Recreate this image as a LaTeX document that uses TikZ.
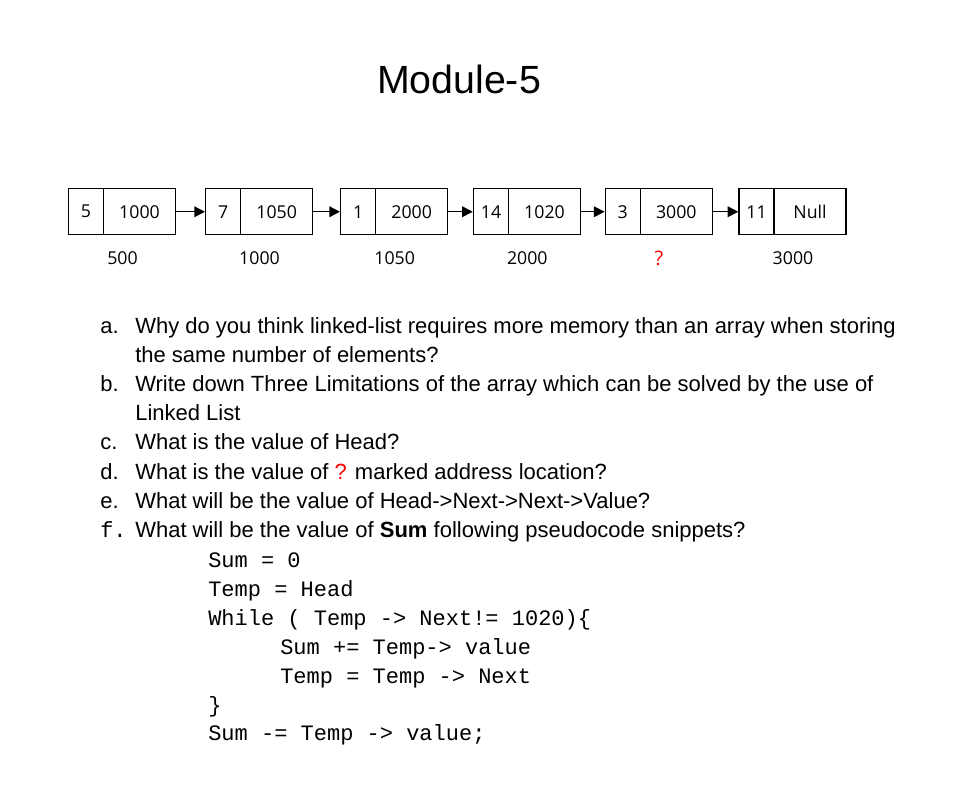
\documentclass[tikz,border=0pt]{standalone}
\usepackage{fontspec}
\setmainfont{Liberation Sans}
\setmonofont{Liberation Mono}
\newfontfamily\cellfont{Open Sans}
\usetikzlibrary{arrows.meta}

\begin{document}
\begin{tikzpicture}[x=0.75pt,y=-0.75pt,
  cellbase/.style={draw, line width=1.1pt, inner sep=0pt, minimum height=34.5pt,
                   font=\cellfont\fontsize{13.3}{15}\selectfont},
  valcell/.style={cellbase, minimum width=26.25pt},
  ptrcell/.style={cellbase, minimum width=54pt},
  addr/.style={font=\cellfont\fontsize{13.3}{15}\selectfont, anchor=base},
  link/.style={line width=1.1pt, -{Triangle[length=8pt,width=8pt]}},
  title/.style={font=\fontsize{29.5}{34}\selectfont, anchor=base},
  item/.style={font=\fontsize{16.5}{19}\selectfont, anchor=base west, inner sep=0pt},
  code/.style={font=\ttfamily\fontsize{16.5}{19}\selectfont, anchor=base west, inner sep=0pt}
]
\useasboundingbox (0,0) rectangle (967,800);

% heading
\node[title] (head) at (459,93) {Module-5};

% list cells: value field and pointer field
\node[valcell] (v1) at (86,211.75)  {5};
\node[ptrcell] (p1) at (139.5,211.75) {1000};
\node[valcell] (v2) at (223.2,211.75) {7};
\node[ptrcell] (p2) at (276.7,211.75) {1050};
\node[valcell] (v3) at (358.2,211.75) {1};
\node[ptrcell] (p3) at (411.7,211.75) {2000};
\node[valcell] (v4) at (491,211.75) {14};
\node[ptrcell] (p4) at (544.5,211.75) {1020};
\node[valcell] (v5) at (622.8,211.75) {3};
\node[ptrcell] (p5) at (676.3,211.75) {3000};
\node[valcell] (v6) at (756.5,211.75) {11};
\node[ptrcell] (p6) at (810,211.75) {Null};

% links
\draw[link] (p1.east) -- (v2.west);
\draw[link] (p2.east) -- (v3.west);
\draw[link] (p3.east) -- (v4.west);
\draw[link] (p4.east) -- (v5.west);
\draw[link] (p5.east) -- (v6.west);

% addresses
\node[addr] (a1) at (122.5,264) {500};
\node[addr] (a2) at (259.5,264) {1000};
\node[addr] (a3) at (394.7,264) {1050};
\node[addr] (a4) at (527.3,264) {2000};
\node[addr, text=red, font=\cellfont\fontsize{15}{17}\selectfont] (a5) at (659,265) {?};
\node[addr] (a6) at (793,264) {3000};

% questions
\node[item] (la) at (100,333) {a.};
\node[item] (qa1) at (135,333) {Why do you think linked-list requires more memory than an array when storing};
\node[item] (qa2) at (135,362.2) {the same number of elements?};
\node[item] (lb) at (100,391.4) {b.};
\node[item] (qb1) at (135,391.4) {Write down Three Limitations of the array which can be solved by the use of};
\node[item] (qb2) at (135,420.6) {Linked List};
\node[item] (lc) at (100,449.8) {c.};
\node[item] (qc) at (135,449.8) {What is the value of Head?};
\node[item] (ld) at (100,479) {d.};
\node[item] (qd) at (135,479) {What is the value of {\color{red}?} marked address location?};
\node[item] (le) at (100,508.2) {e.};
\node[item] (qe) at (135,508.2) {What will be the value of Head->Next->Next->Value?};
\node[code] (lf) at (100,537.4) {f.};
\node[item] (qf) at (135,537.4) {What will be the value of \textbf{Sum} following pseudocode snippets?};

% pseudocode
\node[code] (c1) at (208,567.5) {Sum = 0};
\node[code] (c2) at (208,596.4) {Temp = Head};
\node[code] (c3) at (208,625.3) {While ( Temp -> Next!= 1020)\{};
\node[code] (c4) at (280,654.2) {Sum += Temp-> value};
\node[code] (c5) at (280,683.1) {Temp = Temp -> Next};
\node[code] (c6) at (208,712) {\}};
\node[code] (c7) at (208,740.9) {Sum -= Temp -> value;};
\end{tikzpicture}
\end{document}
